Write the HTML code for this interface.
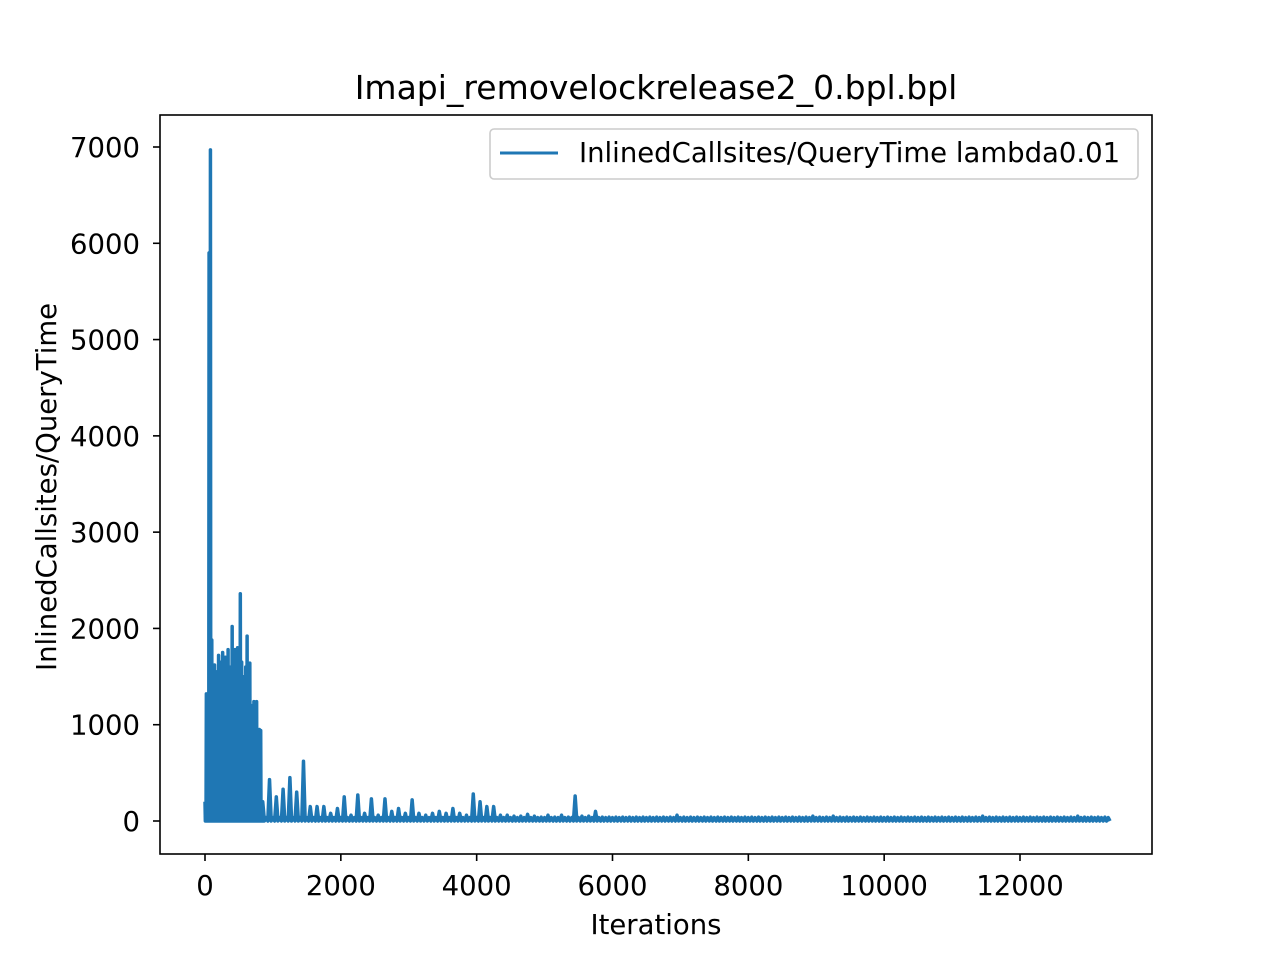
<!DOCTYPE html>
<html><head><meta charset="utf-8"><style>
body{margin:0;background:#fff;}
svg text{font-family:"DejaVu Sans","Liberation Sans",sans-serif;fill:#000;}
</style></head><body>
<svg id="chart" width="1280" height="960" xmlns="http://www.w3.org/2000/svg">
<rect width="1280" height="960" fill="#fff"/>
<text x="656" y="99" font-size="33" text-anchor="middle">Imapi_removelockrelease2_0.bpl.bpl</text>
<g id="plot"></g>
<g id="axes"></g>
<rect x="160" y="115" width="992" height="739" fill="none" stroke="#000" stroke-width="1.6"/>
<text x="656" y="934" font-size="27.5" text-anchor="middle">Iterations</text>
<text transform="translate(56,487) rotate(-90)" font-size="27.5" text-anchor="middle">InlinedCallsites/QueryTime</text>
<g>
<rect x="490" y="129" width="648" height="50" rx="4" fill="#fff" stroke="#ccc" stroke-width="1.6"/>
<line x1="500" y1="153" x2="558" y2="153" stroke="#1f77b4" stroke-width="3"/>
<text x="579" y="162" font-size="27.5">InlinedCallsites/QueryTime lambda0.01</text>
</g>
</svg>
<script>
// early dense region, one value per 10 iterations starting at 0
const earlyValues=[
200,20,1320,50,1200,10,5900,100,6970,50,
1880,30,1400,20,1620,40,1300,20,1550,30,
1720,50,1200,20,1650,30,1750,40,1400,20,
1700,60,1500,30,1780,20,1600,50,1450,30,
2020,40,1700,20,1780,60,1500,30,1800,20,
1700,40,2360,30,1650,50,1500,20,1400,40,
1600,30,1920,20,1500,30,1640,50,1200,20,
1000,30,1240,20,800,30,1240,20,600,40,
950,20,940,30,150,10];
// later peaks, one per 100 iterations starting at 850
const tailPeaks=[
200,430,250,330,450,300,620,150,150,150,
80,130,250,60,270,80,230,60,230,100,
130,80,220,80,60,80,100,80,130,80,
60,280,200,150,150,60,60,50,50,70,
50,40,60,40,60,40,260,50,50,100,
40,40,40,40,40,40,40,40,40,40,
40,60,40,40,40,40,40,40,40,40,
40,40,40,40,40,40,40,40,40,40,
40,50,40,40,50,40,40,40,40,40,
40,40,40,40,40,40,40,40,40,40,
40,40,40,40,40,40,50,40,40,40,
40,40,40,40,40,40,40,40,40,40,
50,40,40,40,40];
const tailTrough=0;
const tailBase=35;
const xTicks=[0,2000,4000,6000,8000,10000,12000];
const yTicks=[0,1000,2000,3000,4000,5000,6000,7000];
const X=v=>205+v*(815/12000);
const Y=v=>821-v*(674/7000);
const ns="http://www.w3.org/2000/svg";
const plot=document.getElementById('plot');
let d="";
earlyValues.forEach((v,i)=>{const it=i*10;d+=(i?"L":"M")+X(it).toFixed(2)+","+Y(v).toFixed(2)+"L"+X(it+5).toFixed(2)+","+Y(tailTrough).toFixed(2);});
tailPeaks.forEach((v,i)=>{const it=850+i*100;
 d+="L"+X(it).toFixed(2)+","+Y(v).toFixed(2)+"L"+X(it+25).toFixed(2)+","+Y(tailTrough).toFixed(2)+"L"+X(it+50).toFixed(2)+","+Y(tailBase).toFixed(2)+"L"+X(it+75).toFixed(2)+","+Y(tailTrough).toFixed(2);});
const p=document.createElementNS(ns,'path');
p.setAttribute('d',d);p.setAttribute('fill','none');p.setAttribute('stroke','#1f77b4');p.setAttribute('stroke-width','3.5');p.setAttribute('stroke-linejoin','round');


plot.appendChild(p);
const axes=document.getElementById('axes');
xTicks.forEach(t=>{
 const l=document.createElementNS(ns,'line');l.setAttribute('x1',X(t));l.setAttribute('x2',X(t));l.setAttribute('y1',854);l.setAttribute('y2',861);l.setAttribute('stroke','#000');l.setAttribute('stroke-width','1.6');
 
 
 axes.appendChild(l);
 const tx=document.createElementNS(ns,'text');tx.setAttribute('x',X(t));tx.setAttribute('y',895);tx.setAttribute('font-size','27.5');tx.setAttribute('text-anchor','middle');tx.textContent=t;
 
 
 axes.appendChild(tx);
});
yTicks.forEach(t=>{
 const l=document.createElementNS(ns,'line');l.setAttribute('x1',153);l.setAttribute('x2',160);l.setAttribute('y1',Y(t));l.setAttribute('y2',Y(t));l.setAttribute('stroke','#000');l.setAttribute('stroke-width','1.6');
 
 
 axes.appendChild(l);
 const tx=document.createElementNS(ns,'text');tx.setAttribute('x',140);tx.setAttribute('y',Y(t)+10);tx.setAttribute('font-size','27.5');tx.setAttribute('text-anchor','end');tx.textContent=t;
 
 
 axes.appendChild(tx);
});
</script>
</body></html>
